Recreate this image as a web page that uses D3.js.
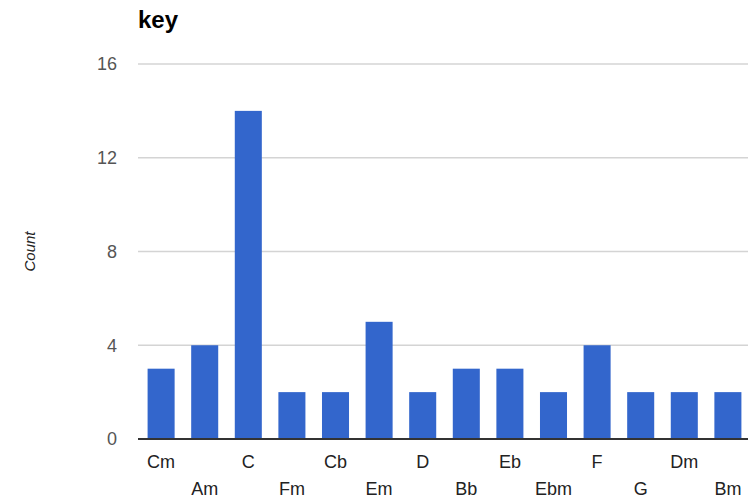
<!DOCTYPE html>
<html>
<head>
<meta charset="utf-8">
<script src="https://cdn.jsdelivr.net/npm/d3@7"></script>
<style>
  body { margin: 0; background: #fff; }
  svg { display: block; font-family: "Liberation Sans", Arial, sans-serif; }
</style>
</head>
<body>
<svg id="chart" width="748" height="502"></svg>
<script>
// chart values
const keys = ["Cm", "Am", "C", "Fm", "Cb", "Em", "D", "Bb", "Eb", "Ebm", "F", "G", "Dm", "Bm"];
const counts = [3, 4, 14, 2, 2, 5, 2, 3, 3, 2, 4, 2, 2, 2];
const yTicks = [0, 4, 8, 12, 16];

const data = keys.map((k, i) => ({ key: k, count: counts[i] }));

const svg = d3.select("#chart");

// plot area
const plotLeft = 138, plotRight = 751, plotTop = 64, plotBottom = 439;

const xScale = d3.scaleBand()
  .domain(keys)
  .range([plotLeft, plotRight])
  .paddingInner(0.38)
  .paddingOuter(0.22);

const yScale = d3.scaleLinear()
  .domain([0, 16])
  .range([plotBottom, plotTop]);

// Gridlines
svg.append("g")
  .selectAll("line")
  .data(yTicks.filter(t => t > 0))
  .enter()
  .append("line")
  .attr("x1", plotLeft)
  .attr("x2", 748)
  .attr("y1", d => yScale(d))
  .attr("y2", d => yScale(d))
  .attr("stroke", "#d4d4d4")
  .attr("stroke-width", 1.5);

// Y tick labels
svg.append("g")
  .selectAll("text")
  .data(yTicks)
  .enter()
  .append("text")
  .attr("x", 117)
  .attr("y", d => yScale(d))
  .attr("dy", "0.36em")
  .attr("text-anchor", "end")
  .attr("font-size", "18px")
  .attr("fill", "#555")
  .text(d => d);

// Bars
svg.append("g")
  .selectAll("rect")
  .data(data)
  .enter()
  .append("rect")
  .attr("x", d => xScale(d.key))
  .attr("y", d => yScale(d.count))
  .attr("width", xScale.bandwidth())
  .attr("height", d => yScale(0) - yScale(d.count))
  .attr("fill", "#3366cc");

// Baseline
svg.append("line")
  .attr("x1", plotLeft)
  .attr("x2", 748)
  .attr("y1", yScale(0))
  .attr("y2", yScale(0))
  .attr("stroke", "#333")
  .attr("stroke-width", 2);

// X labels, staggered on two rows
svg.append("g")
  .selectAll("text")
  .data(data)
  .enter()
  .append("text")
  .attr("x", d => xScale(d.key) + xScale.bandwidth() / 2)
  .attr("y", (d, i) => i % 2 === 0 ? 468 : 495)
  .attr("text-anchor", "middle")
  .attr("font-size", "18px")
  .attr("fill", "#222")
  .text(d => d.key);

// Title
svg.append("text")
  .attr("x", 138)
  .attr("y", 28)
  .attr("font-size", "24px")
  .attr("font-weight", "bold")
  .attr("fill", "#000")
  .text("key");

// Y axis label
svg.append("text")
  .attr("transform", `translate(35, ${ (plotTop + plotBottom) / 2 }) rotate(-90)`)
  .attr("text-anchor", "middle")
  .attr("font-size", "15px")
  .attr("font-style", "italic")
  .attr("fill", "#222")
  .text("Count");
</script>
</body>
</html>
